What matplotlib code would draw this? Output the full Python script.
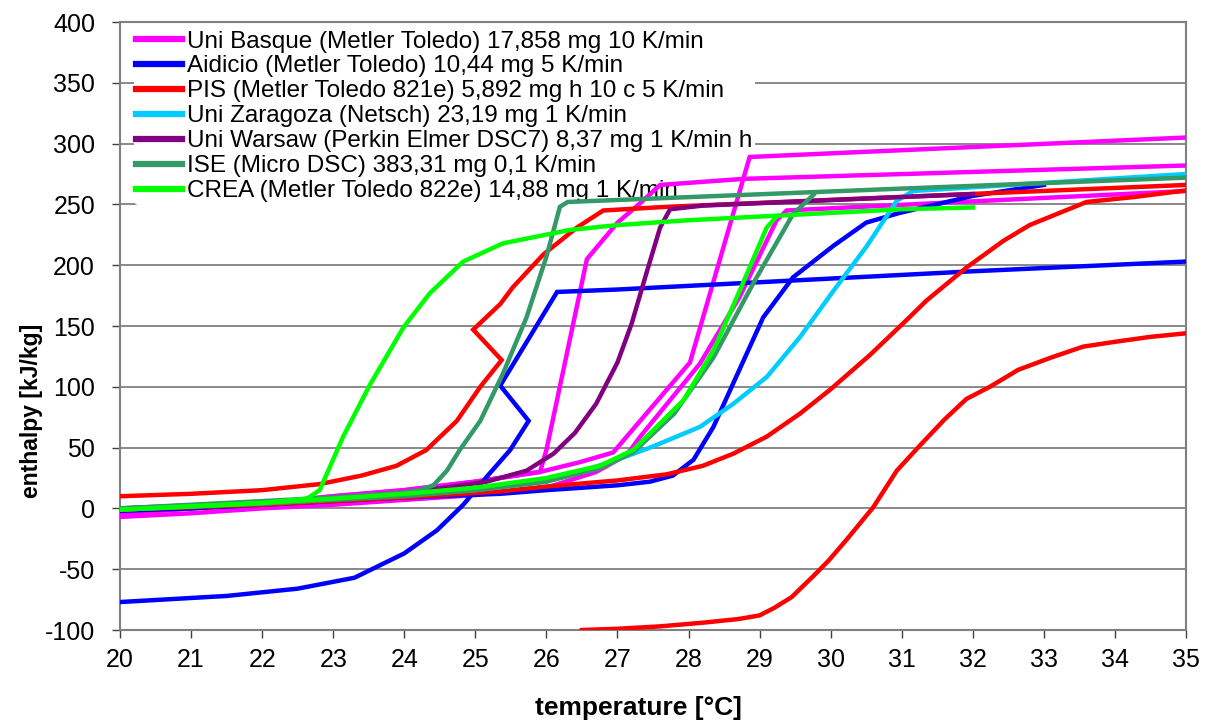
import matplotlib

matplotlib.use("Agg")
import matplotlib.pyplot as plt

plt.rcParams["font.family"] = ["Liberation Sans", "DejaVu Sans"]
plt.rcParams["axes.unicode_minus"] = False

# --- data (temperature in degC, enthalpy in kJ/kg) ---

# Uni Basque (three runs)
basque_a_t = [20, 21, 22, 23, 24, 25, 25.91, 26.0, 26.57, 27.0, 27.32, 27.6, 28.77, 35]
basque_a_h = [-4, 0, 4, 10, 15, 22, 30, 48, 205, 235, 251, 266, 271, 282]
basque_b_t = [20, 21, 22, 23, 24, 25, 25.91, 26.47, 26.94, 28.02, 28.86, 35]
basque_b_h = [-4, 0, 4, 10, 15, 22, 30, 38, 46, 120, 289, 305]
basque_c_t = [20, 21, 22, 23, 24, 25, 26, 26.7, 27.13, 27.32, 28.16, 28.72, 29.24, 29.38, 31.82, 35]
basque_c_h = [-7, -4, 0, 3, 7, 11, 17, 30, 44, 59, 119, 174, 237, 245, 252, 261]

# Aidicio (two runs)
aidicio_a_t = [20, 21.5, 22.5, 23.3, 24.0, 24.46, 24.83, 25.16, 25.49, 25.75, 25.35, 26.15, 27, 28, 30, 32, 35]
aidicio_a_h = [-77, -72, -66, -57, -37, -18, 3, 26, 48, 72, 101, 178, 180, 183, 189, 195, 203]
aidicio_b_t = [20, 21, 22, 23, 24, 25.35, 26, 27, 27.46, 27.78, 28.07, 28.35, 28.63, 29.05, 29.47,
               30.04, 30.5, 30.97, 32, 33]
aidicio_b_h = [-2, 0, 3, 6, 9, 12, 15, 19, 22, 27, 40, 67, 103, 157, 190,
               216, 235, 243, 257, 266]

# PIS (three runs)
pis_a_t = [20, 21, 22, 22.81, 23.4, 23.89, 24.31, 24.74, 25.07, 25.37, 24.97, 25.35, 25.53,
           25.96, 26.43, 26.8, 27.69, 35]
pis_a_h = [10, 12, 15, 20, 27, 35, 48, 72, 100, 122, 147, 168, 182,
           209, 231, 245, 248, 266]
pis_b_t = [26.5, 27.0, 27.6, 28.2, 28.7, 29.0, 29.2, 29.45, 29.75, 29.97, 30.22, 30.6, 30.93,
           31.26, 31.6, 31.91, 32.24, 32.64, 33.1, 33.55, 34.0, 34.49, 35]
pis_b_h = [-100, -99, -97, -94, -91, -88, -82, -73, -56, -43, -26, 1, 31,
           52, 73, 90, 100, 114, 124, 133, 137, 141, 144]
pis_c_t = [20, 22, 24, 25.35, 26, 27, 27.69, 28.2, 28.63, 29.1, 29.57, 30.0, 30.55, 31.07,
           31.35, 31.91, 32.43, 32.8, 33.6, 34.26, 35]
pis_c_h = [-1, 3, 9, 14, 18, 23, 28, 35, 45, 59, 78, 98, 126, 155,
           171, 198, 220, 233, 252, 256, 261.5]

# Uni Zaragoza
zaragoza_t = [20, 22, 24, 25, 26, 26.9, 27.46, 28.16, 28.63, 29.1, 29.57, 30.04, 30.5,
              30.93, 31.16, 35]
zaragoza_h = [0, 4, 11, 15, 22, 38, 50, 67, 86, 108, 141, 179, 215, 253, 261, 275]

# Uni Warsaw
warsaw_t = [20, 22, 24, 24.31, 25.16, 25.72, 26.1, 26.4, 26.7, 27.0, 27.2, 27.4, 27.6, 27.74,
            28.2, 30.97, 32]
warsaw_h = [0, 5, 12, 15, 22, 31, 45, 62, 86, 120, 152, 192, 231, 246, 249, 256, 258.5]

# ISE (two runs)
ise_a_t = [20, 21, 22, 23, 24, 24.22, 24.41, 24.6, 24.78, 25.07, 25.39, 25.72, 26.0, 26.19,
           26.3, 31, 35]
ise_a_h = [0, 3, 6, 9, 13, 15, 19, 31, 48, 72, 111, 157, 207, 248, 252, 263, 272]
ise_b_t = [20, 22, 24, 25, 26, 26.75, 27.22, 27.8, 28.35, 28.91, 29.47, 29.76]
ise_b_h = [-1, 4, 10, 15, 22, 33, 46, 78, 124, 185, 242, 258]

# CREA (two runs)
crea_a_t = [20, 21, 22, 22.63, 22.81, 23.14, 23.52, 23.99, 24.36, 24.83, 25.39, 26.33, 27, 28,
            29, 30, 31, 32]
crea_a_h = [-1, 1.5, 4.5, 8, 15, 59, 102, 149, 177, 203, 218, 229, 233, 237, 240, 243, 246, 247.5]
crea_b_t = [20, 22, 23, 24, 25, 26, 26.75, 27.22, 27.93, 28.35, 28.72, 29.1, 29.24]
crea_b_h = [-1, 4.5, 8, 12, 17, 25, 35, 48, 89, 130, 179, 231, 240]

series = [
    ("Uni Basque (Metler Toledo) 17,858 mg 10 K/min", "#FF00FF",
     [(basque_a_t, basque_a_h), (basque_b_t, basque_b_h), (basque_c_t, basque_c_h)]),
    ("Aidicio (Metler Toledo) 10,44 mg 5 K/min", "#0000FF",
     [(aidicio_a_t, aidicio_a_h), (aidicio_b_t, aidicio_b_h)]),
    ("PIS (Metler Toledo 821e) 5,892 mg h 10 c 5 K/min", "#FF0000",
     [(pis_a_t, pis_a_h), (pis_b_t, pis_b_h), (pis_c_t, pis_c_h)]),
    ("Uni Zaragoza (Netsch) 23,19 mg 1 K/min", "#00CCFF",
     [(zaragoza_t, zaragoza_h)]),
    ("Uni Warsaw (Perkin Elmer DSC7) 8,37 mg 1 K/min h", "#800080",
     [(warsaw_t, warsaw_h)]),
    ("ISE (Micro DSC) 383,31 mg 0,1 K/min", "#339966",
     [(ise_a_t, ise_a_h), (ise_b_t, ise_b_h)]),
    ("CREA (Metler Toledo 822e) 14,88 mg 1 K/min", "#00FF00",
     [(crea_a_t, crea_a_h), (crea_b_t, crea_b_h)]),
]

fig = plt.figure(figsize=(12.09, 7.23), dpi=100)
ax = fig.add_axes([120 / 1209, 1 - 630 / 723, 1066 / 1209, 608 / 723])

for label, color, runs in series:
    for i, (t, h) in enumerate(runs):
        ax.plot(t, h, color=color, lw=3.2, solid_joinstyle="miter",
                label=label if i == 0 else None, zorder=3)

ax.set_xlim(20, 35)
ax.set_ylim(-100, 400)
ax.set_xticks(range(20, 36))
ax.set_yticks(range(-100, 401, 50))
ax.yaxis.grid(True, color="#808080", lw=1.3, zorder=0)
ax.set_axisbelow(True)
for side in ["left", "bottom", "right", "top"]:
    ax.spines[side].set_color("#808080")
    ax.spines[side].set_linewidth(1.5)
ax.tick_params(axis="both", labelsize=18, length=6, width=1, color="#404040")
ax.tick_params(axis="x", pad=7)
ax.tick_params(axis="y", pad=12)

ax.set_xlabel("temperature [°C]", fontsize=19, fontweight="bold")
ax.xaxis.set_label_coords(0.486, -0.108)
ax.set_ylabel("enthalpy [kJ/kg]", fontsize=16.5, fontweight="bold")
ax.yaxis.set_label_coords(-0.072, 0.36)

leg = ax.legend(loc="upper left", bbox_to_anchor=(0.013, 0.99), fontsize=17.5,
                frameon=True, facecolor="white", edgecolor="none", framealpha=1,
                handlelength=1.9, handletextpad=0.2, labelspacing=0.12,
                borderpad=0.1, borderaxespad=0)
leg.set_zorder(2.5)
for line in leg.get_lines():
    line.set_linewidth(4.5)

fig.savefig("out.png", dpi=100)
plt.close(fig)
